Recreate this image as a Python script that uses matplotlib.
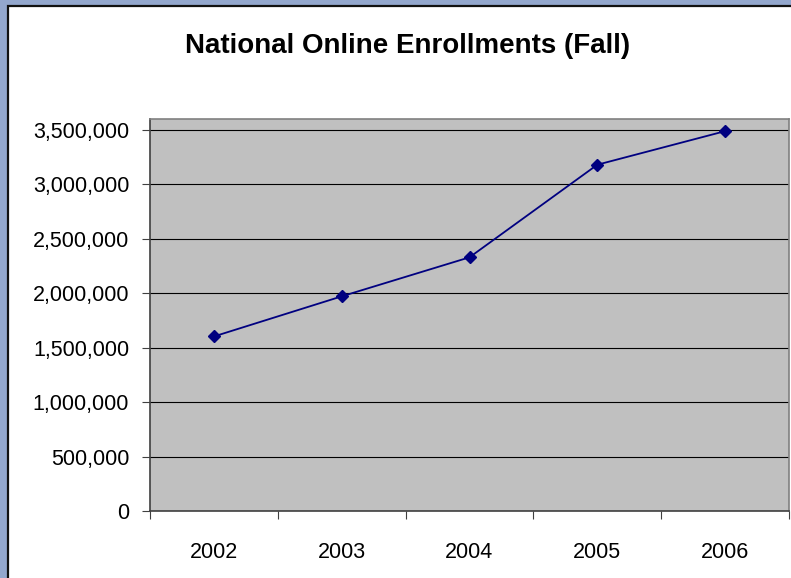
import matplotlib
matplotlib.use("Agg")
import matplotlib.pyplot as plt
from matplotlib.patches import Rectangle
from matplotlib.ticker import FuncFormatter, FixedLocator, NullFormatter

# Fall online enrollments, national totals
years = ["2002", "2003", "2004", "2005", "2006"]
enrollments = [1602970, 1971397, 2329783, 3180050, 3488381]
y_ticks = [0, 500000, 1000000, 1500000, 2000000, 2500000, 3000000, 3500000]

plt.rcParams["font.family"] = ["Liberation Sans", "DejaVu Sans"]

W, H = 791, 578
fig = plt.figure(figsize=(W / 100, H / 100), dpi=100, facecolor="#93A7CD")

# White chart area with a dark border
fig.patches.append(Rectangle((8 / W, 0 - 0.01), 1.0, 1 - 6 / H + 0.01,
                             transform=fig.transFigure, facecolor="white",
                             edgecolor="#111111", linewidth=1.6, zorder=-1))

ax = fig.add_axes([150 / W, (H - 511) / H, (789 - 150) / W, (511 - 119) / H])
ax.set_zorder(1)
ax.set_facecolor("#C0C0C0")

x = [i + 0.5 for i in range(len(years))]
ax.plot(x, enrollments, color="#000080", linewidth=1.3, marker="D",
        markersize=6, markerfacecolor="#000080", markeredgecolor="#000080",
        zorder=3)

ax.set_xlim(0, len(years))
ax.set_ylim(0, 3600000)

ax.yaxis.set_major_locator(FixedLocator(y_ticks))
ax.yaxis.set_major_formatter(FuncFormatter(lambda v, p: f"{int(v):,}"))
ax.grid(axis="y", color="black", linewidth=0.8)
ax.set_axisbelow(True)

ax.xaxis.set_major_locator(FixedLocator(range(len(years) + 1)))
ax.xaxis.set_major_formatter(NullFormatter())
ax.xaxis.set_minor_locator(FixedLocator(x))
ax.set_xticklabels(years, minor=True)

ax.tick_params(axis="y", which="major", direction="out", length=6,
               width=0.8, color="#404040", pad=9, labelsize=15.5)
ax.tick_params(axis="x", which="major", direction="out", length=5.5,
               width=0.8, color="#404040")
ax.tick_params(axis="x", which="minor", length=0, pad=22, labelsize=15.5)

for side in ("top", "right"):
    ax.spines[side].set_color("#808080")
    ax.spines[side].set_linewidth(1.2)
for side in ("left", "bottom"):
    ax.spines[side].set_color("#404040")
    ax.spines[side].set_linewidth(1.2)

fig.text(408 / W, 1 - 53 / H, "National Online Enrollments (Fall)",
         ha="center", va="baseline", fontsize=20, fontweight="bold")

fig.savefig("out.png", dpi=100, facecolor=fig.get_facecolor())
